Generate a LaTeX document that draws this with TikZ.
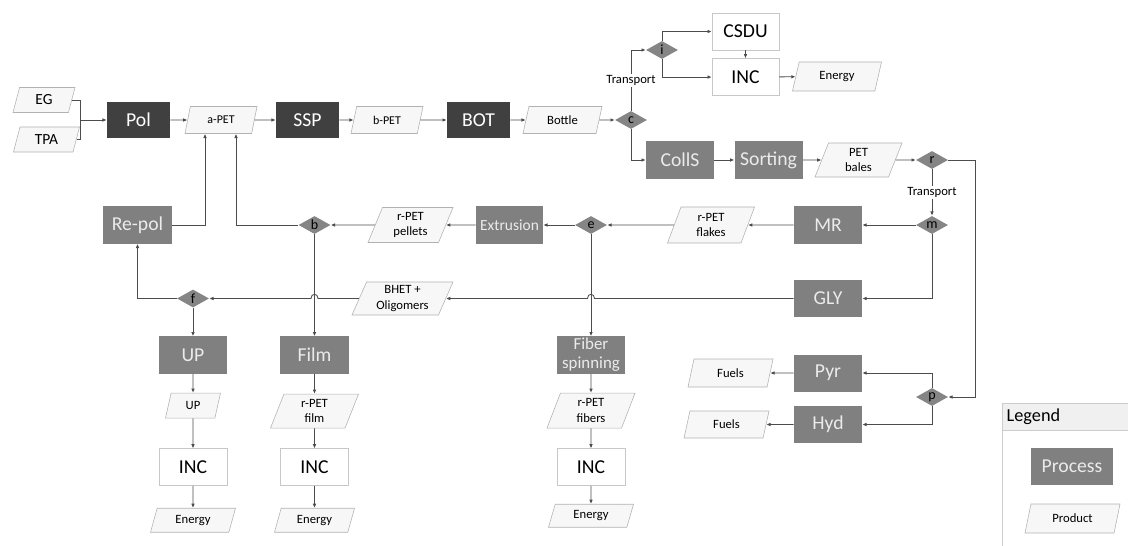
\documentclass[tikz,border=0pt]{standalone}
\usepackage{fontspec}
\setmainfont{Carlito}
\usepackage{tikz}
\usetikzlibrary{arrows.meta,shapes,positioning}
\tikzset{
  process/.style       = {rectangle, fill=black!50, text=white!92!black, align=center,
                          minimum width=1.7cm, minimum height=0.925cm, inner sep=1pt,
                          font=\fontsize{14}{16}\selectfont},
  process dark/.style  = {process, fill=black!75, text=white,
                          minimum width=1.575cm, minimum height=0.875cm},
  process white/.style = {process, fill=white, draw=black!22, text=black,
                          minimum width=1.675cm},
  product/.style       = {trapezium, trapezium left angle=63, trapezium right angle=117,
                          trapezium stretches body, draw=black!30, fill=black!3,
                          align=center, inner sep=1pt, minimum height=0.675cm,
                          font=\fontsize{9}{11}\selectfont},
  choice/.style        = {diamond, fill=black!48, inner sep=0pt, minimum width=0.8cm,
                          minimum height=0.45cm, font=\fontsize{10}{10}\selectfont},
  link/.style          = {draw=black!70, line width=0.6pt},
  flow/.style          = {link, -{Latex[length=3pt,width=2.6pt]}},
  transport/.style     = {fill=white, inner sep=1pt, font=\fontsize{9}{10}\selectfont},
}
\begin{document}
\begin{tikzpicture}[x=0.025cm, y=-0.025cm]
  \useasboundingbox (0,0) rectangle (1128,545);
  %production of the bottle
  \node[product, minimum width=1.55cm, minimum height=0.625cm, font=\fontsize{11}{12}\selectfont] (eg) at (44,100) {EG};
  \node[product, minimum width=1.65cm, minimum height=0.625cm, font=\fontsize{11}{12}\selectfont] (tpa) at (46.5,139.5) {TPA};
  \coordinate (feed) at (80,120);
  \node[process dark] (pol) at (138.5,120) {Pol};
  \node[product, minimum width=1.8cm, font=\fontsize{8.5}{10}\selectfont] (a_pet) at (221,120) {a-PET};
  \node[process dark] (ssp) at (307.5,120) {SSP};
  \node[product, minimum width=1.8cm, font=\fontsize{8.5}{10}\selectfont] (b_pet) at (387,120) {b-PET};
  \node[process dark] (bot) at (478.5,120) {BOT};
  \node[product, minimum width=1.975cm] (bottle) at (562.5,120) {Bottle};
  \node[choice] (c) at (631,120) {c};

  %incineration of the waste
  \node[choice] (i) at (662,50) {i};
  \node[process white] (csdu) at (745.5,31.5) {CSDU};
  \node[process white, below=0.2cm of csdu] (inc_msw) {INC};
  \node[product, minimum width=2.225cm, minimum height=0.725cm] (energy_msw) at (837,76.5) {Energy};

  %collection and sorting
  \node[process] (colls) at (680,160) {CollS};
  \node[process, right=0.5cm of colls] (sorting) {Sorting};
  \node[product, minimum width=2.175cm, minimum height=0.85cm] (bales) at (858.5,160) {PET\\bales};
  \node[choice] (r) at (932,160) {r};
  \node[choice] (m) at (932,225) {m};

  %mechanical recycling
  \node[process] (mr) at (828,225) {MR};
  \node[product, minimum width=2.175cm, minimum height=0.9cm] (flakes) at (711,225) {r-PET\\flakes};
  \node[choice] (e) at (591,225) {e};
  \node[process, minimum width=1.675cm, font=\fontsize{11}{12}\selectfont] (extrusion) at (509.5,225) {Extrusion};
  \node[product, minimum width=2.125cm, minimum height=0.875cm] (pellets) at (410.5,225) {r-PET\\pellets};
  \node[choice] (b) at (314.5,225) {b};
  \node[process] (repol) at (137.5,225) {Re-pol};

  %glycolysis
  \node[process] (gly) at (828,298.5) {GLY};
  \node[product, minimum width=2.525cm, minimum height=0.825cm] (bhet) at (402.5,298.5) {BHET +\\Oligomers};
  \node[choice] (f) at (193,298.5) {f};

  %end of life of the products
  \node[process] (up) at (193,355) {UP};
  \node[product, below=0.475cm of up, minimum width=1.375cm, minimum height=0.625cm] (up_prod) {UP};
  \node[process white, below=0.75cm of up_prod, minimum width=1.7cm] (inc_up) {INC};
  \node[product, below=0.55cm of inc_up, minimum width=2.125cm, minimum height=0.6cm] (energy_up) {Energy};

  \node[process] (film) at (314.5,355) {Film};
  \node[product, below=0.5cm of film, minimum width=2.2cm, minimum height=0.85cm] (film_prod) {r-PET\\film};
  \node[process white, below=0.5cm of film_prod, minimum width=1.7cm] (inc_film) {INC};
  \node[product, below=0.55cm of inc_film, minimum width=2cm, minimum height=0.6cm] (energy_film) {Energy};

  \node[process, inner sep=0pt, font=\fontsize{12}{13.5}\selectfont] (fiber) at (591,355) {Fiber\\spinning};
  \node[product, below=0.475cm of fiber, minimum width=2.2cm, minimum height=0.875cm] (fibers) {r-PET\\fibers};
  \node[process white, below=0.5cm of fibers, minimum width=1.7cm] (inc_fiber) {INC};
  \node[product, below=0.45cm of inc_fiber, minimum width=2.125cm, minimum height=0.575cm] (energy_fiber) {Energy};

  %pyrolysis and hydrogenation
  \node[choice] (p) at (932,397) {p};
  \node[process] (pyr) at (828,373) {Pyr};
  \node[process] (hyd) at (828,424.5) {Hyd};
  \node[product, minimum width=2.125cm, minimum height=0.7cm] (fuels_pyr) at (730.5,373) {Fuels};
  \node[product, minimum width=2.125cm, minimum height=0.675cm] (fuels_hyd) at (726.5,424.5) {Fuels};

  %legend
  \draw[draw=black!20, fill=black!6] (1002,430) rectangle (1140,403);
  \draw[draw=black!20] (1002,430) -- (1002,550);
  \node[anchor=west, inner sep=1pt, font=\fontsize{13}{14}\selectfont] (legend) at (1005,417) {Legend};
  \node[process, minimum width=2.05cm] (leg_process) at (1072,466.5) {Process};
  \node[product, minimum width=2.375cm, minimum height=0.725cm] (leg_product) at (1072.5,518.5) {Product};

  %connectors, main line
  \draw[link] (eg.right side) -| (feed);
  \draw[link] (tpa.right side) -| (feed);
  \draw[flow] (feed) -- (pol);
  \draw[flow] (pol) -- (a_pet);
  \draw[flow] (a_pet) -- (ssp);
  \draw[flow] (ssp) -- (b_pet);
  \draw[flow] (b_pet) -- (bot);
  \draw[flow] (bot) -- (bottle);
  \draw[flow] (bottle) -- (c);
  \draw[flow] (c.north) |- node[transport, pos=0.25] {Transport} (i.west);
  \draw[flow] (i.north) |- (csdu.west);
  \draw[flow] (i.south) |- (inc_msw.west);
  \draw[flow] (csdu) -- (inc_msw);
  \draw[flow] (inc_msw) -- (energy_msw);
  \draw[flow] (c.south) |- (colls.west);
  \draw[flow] (colls) -- (sorting);
  \draw[flow] (sorting) -- (bales);
  \draw[flow] (bales) -- (r);
  \draw[flow] (r.south) -- node[transport] {Transport} (m.north);
  \draw[flow] (r.east) -- ++(27,0) |- (p.east);

  %connectors, recycling
  \draw[flow] (m) -- (mr);
  \draw[flow] (m.south) |- (gly.east);
  \draw[flow] (mr) -- (flakes);
  \draw[flow] (flakes) -- (e);
  \draw[flow] (e) -- (extrusion);
  \draw[flow] (extrusion) -- (pellets);
  \draw[flow] (pellets) -- (b);
  \draw[flow] (b.west) -| ([xshift=0.375cm]a_pet.south);
  \draw[flow] (repol.east) -| ([xshift=-0.4cm]a_pet.south);
  \draw[flow] (b) -- (film);
  \draw[flow] (e) -- (fiber);
  %the glycolysis line jumps over the two vertical ones
  \draw[flow] (gly.west) -- ([xshift=2.5pt]e |- gly.west) .. controls +(0,4pt) and +(0,4pt) .. ([xshift=-2.5pt]e |- gly.west) -- (bhet.right side);
  \draw[flow] (bhet.left side) -- ([xshift=2.5pt]b |- bhet.left side) .. controls +(0,4pt) and +(0,4pt) .. ([xshift=-2.5pt]b |- bhet.left side) -- (f.east);
  \draw[flow] (f.west) -| (repol.south);
  \draw[flow] (f) -- (up);

  %connectors, columns
  \draw[flow] (up) -- (up_prod);
  \draw[flow] (up_prod) -- (inc_up);
  \draw[flow] (inc_up) -- (energy_up);
  \draw[flow] (film) -- (film_prod);
  \draw[flow] (film_prod) -- (inc_film);
  \draw[flow] (inc_film) -- (energy_film);
  \draw[flow] (fiber) -- (fibers);
  \draw[flow] (fibers) -- (inc_fiber);
  \draw[flow] (inc_fiber) -- (energy_fiber);
  \draw[flow] (p.north) |- (pyr.east);
  \draw[flow] (p.south) |- (hyd.east);
  \draw[flow] (pyr) -- (fuels_pyr);
  \draw[flow] (hyd) -- (fuels_hyd);
\end{tikzpicture}
\end{document}
